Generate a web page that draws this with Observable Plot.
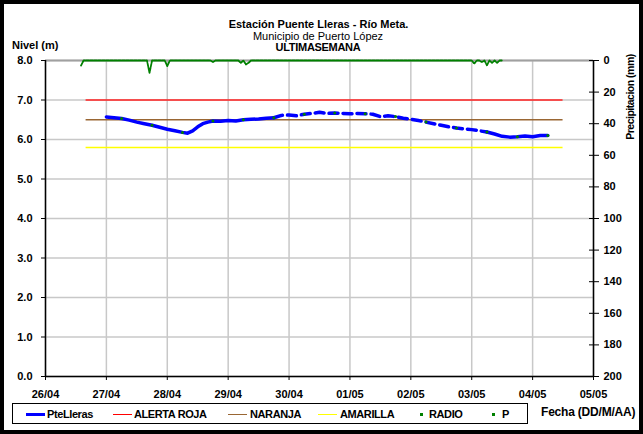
<!DOCTYPE html>
<html><head><meta charset="utf-8">
<script src="https://cdn.jsdelivr.net/npm/d3@7"></script>
<script src="https://cdn.jsdelivr.net/npm/@observablehq/plot@0.6"></script>
<style>
body{margin:0;background:#fff;}
#wrap{position:relative;width:643px;height:434px;font-family:"Liberation Sans",Arial,sans-serif;overflow:hidden;background:#fff;}
#chart{position:absolute;left:0;top:0;}
#frame{position:absolute;left:0;top:0;width:643px;height:434px;box-sizing:border-box;border:4px solid #000;pointer-events:none;}
.t{position:absolute;white-space:nowrap;color:#000;font-size:11px;line-height:12px;}
.b{font-weight:bold;}
.lg{letter-spacing:-0.4px;}
.sw{position:absolute;height:0;}
.dot{position:absolute;width:3px;height:3px;background:#008000;}
</style></head><body>
<div id="wrap">
  <div id="chart"></div>
  <div class="t b" style="left:0;width:637px;text-align:center;top:18px;">Estación Puente Lleras - Río Meta.</div>
  <div class="t" style="left:0;width:636px;text-align:center;top:30px;">Municipio de Puerto López</div>
  <div class="t b" style="left:0;width:636px;text-align:center;top:41px;letter-spacing:-0.3px;">ULTIMASEMANA</div>
  <div class="t b" style="left:12px;top:39px;">Nivel (m)</div>
  <div class="t b" style="left:580px;top:91px;width:100px;text-align:center;transform:rotate(-90deg);transform-origin:50px 6px;font-size:10.5px;letter-spacing:-0.5px;">Precipitacion (mm)</div>
  <div style="position:absolute;left:12px;top:403px;width:516px;height:21px;border:1px solid #000;box-sizing:border-box;"></div>
  <div class="sw" style="left:26px;top:413px;width:19px;border-top:3px solid #0000ff;"></div>
  <div class="t b lg" style="left:47px;top:408px;">PteLleras</div>
  <div class="sw" style="left:113px;top:414px;width:19px;border-top:1px solid #ff0000;"></div>
  <div class="t b lg" style="left:134px;top:408px;">ALERTA ROJA</div>
  <div class="sw" style="left:228px;top:414px;width:19px;border-top:1px solid #996633;"></div>
  <div class="t b lg" style="left:250px;top:408px;">NARANJA</div>
  <div class="sw" style="left:318px;top:414px;width:19px;border-top:1px solid #ffff00;"></div>
  <div class="t b lg" style="left:340px;top:408px;">AMARILLA</div>
  <div class="dot" style="left:420px;top:413px;"></div>
  <div class="t b lg" style="left:429px;top:408px;">RADIO</div>
  <div class="dot" style="left:492px;top:413px;"></div>
  <div class="t b lg" style="left:502px;top:408px;">P</div>
  <div class="t b" style="left:541px;top:406px;font-size:12px;letter-spacing:-0.2px;">Fecha (DD/M/AA)</div>
  <div id="frame"></div>
</div>
<script>
// ---- Data ----
const nivelHoras = [
  "2024-04-27T00","2024-04-27T03","2024-04-27T06","2024-04-27T09","2024-04-27T12","2024-04-27T15","2024-04-27T18","2024-04-27T21",
  "2024-04-28T00","2024-04-28T03","2024-04-28T06","2024-04-28T08","2024-04-28T10","2024-04-28T12","2024-04-28T14","2024-04-28T16","2024-04-28T18","2024-04-28T21",
  "2024-04-29T00","2024-04-29T03","2024-04-29T06","2024-04-29T09","2024-04-29T12","2024-04-29T15","2024-04-29T18","2024-04-29T21",
  "2024-04-30T00","2024-04-30T03","2024-04-30T06","2024-04-30T09","2024-04-30T12","2024-04-30T15","2024-04-30T18","2024-04-30T21",
  "2024-05-01T00","2024-05-01T03","2024-05-01T06","2024-05-01T09","2024-05-01T12","2024-05-01T15","2024-05-01T18","2024-05-01T21",
  "2024-05-02T00","2024-05-02T03","2024-05-02T06","2024-05-02T09","2024-05-02T12","2024-05-02T15","2024-05-02T18","2024-05-02T21",
  "2024-05-03T00","2024-05-03T03","2024-05-03T06","2024-05-03T09","2024-05-03T12","2024-05-03T15","2024-05-03T18","2024-05-03T21",
  "2024-05-04T00","2024-05-04T03","2024-05-04T06"
];
const nivelValores = [
  6.57,6.55,6.53,6.49,6.44,6.40,6.36,6.31,
  6.26,6.22,6.18,6.16,6.22,6.32,6.40,6.44,6.47,6.46,
  6.48,6.47,6.50,6.51,6.52,6.54,6.55,6.61,
  6.62,6.60,6.64,6.66,6.69,6.66,6.67,6.66,
  6.65,6.66,6.65,6.64,6.58,6.60,6.58,6.54,
  6.51,6.48,6.44,6.40,6.36,6.32,6.29,6.27,
  6.25,6.22,6.19,6.14,6.08,6.06,6.07,6.09,
  6.07,6.10,6.10
];
const tramoDiscontinuo = ["2024-04-29T18","2024-05-03T06"];

const radioHoras = [
  "2024-04-27T06","2024-04-27T18","2024-04-28T06","2024-04-28T18","2024-04-29T06","2024-04-29T18",
  "2024-04-30T06","2024-04-30T18","2024-05-01T06","2024-05-01T18","2024-05-02T06","2024-05-02T18",
  "2024-05-03T06","2024-05-03T18","2024-05-04T06"
];
const radioValores = [6.53,6.36,6.18,6.47,6.50,6.55,6.64,6.67,6.65,6.58,6.44,6.29,6.19,6.07,6.10];

// hourly precipitation (mm) starting 26/04 14:00
const pInicio = "2024-04-26T14";
const pValores = [
  3.2,0,0,0,0,0,0,0,0,0,0,0,0,0,0,0,0,0,0,0,0,0,0,0,
  0,0,0,7.8,0,0,0,0,0,0,3.6,0,0,0,0,0,0,0,0,0,0,0,0,0,
  0,0,0,0,1.0,0,0,0,0,0,0,0,0,0,0,1.5,0,2.5,1.5,0,0,0,0,0,
  0,0,0,0,0,0,0,0,0,0,0,0,0,0,0,0,0,0,0,0,0,0,0,0,
  0,0,0,0,0,0,0,0,0,0,0,0,0,0,0,0,0,0,0,0,0,0,0,0,
  0,0,0,0,0,0,0,0,0,0,0,0,0,0,0,0,0,0,0,0,0,0,0,0,
  0,0,0,0,0,0,0,0,0,0,0,2.0,0,0,1.0,0,3.0,0,1.5,0,1.5,0,0
];

const umbrales = [
  {nombre:"ALERTA ROJA", valor:7.0, color:"#ff2020"},
  {nombre:"NARANJA", valor:6.5, color:"#996633"},
  {nombre:"AMARILLA", valor:5.8, color:"#ffff00"}
];
const umbralRango = ["2024-04-26T16","2024-05-04T12"];

const nivelTicks = [0,1,2,3,4,5,6,7,8];
const precipTicks = [0,20,40,60,80,100,120,140,160,180,200];
const fechaInicio = "2024-04-26T00", fechaFin = "2024-05-05T00";

// ---- Build ----
const parse = d3.utcParse("%Y-%m-%dT%H");
const x0 = parse(fechaInicio), x1 = parse(fechaFin);
const dias = d3.utcDay.range(x0, d3.utcDay.offset(x1, 1));
const dA = parse(tramoDiscontinuo[0]), dB = parse(tramoDiscontinuo[1]);
const nivel = nivelHoras.map((h,i)=>({t:parse(h), v:nivelValores[i]}));
const solido1 = nivel.filter(d=>d.t<=dA);
const disc = nivel.filter(d=>d.t>=dA && d.t<=dB);
const solido2 = nivel.filter(d=>d.t>=dB);
const radio = radioHoras.map((h,i)=>({t:parse(h), v:radioValores[i]}));
const p0 = parse(pInicio);
const precip = pValores.map((v,i)=>({t:d3.utcHour.offset(p0,i), y:8 - v/25}));
const u0 = parse(umbralRango[0]), u1 = parse(umbralRango[1]);

const chart = Plot.plot({
  width:643, height:434,
  marginLeft:45, marginRight:50, marginTop:60, marginBottom:58,
  style:{fontFamily:"'Liberation Sans', Arial, sans-serif", fontSize:"11px", fontWeight:"bold", background:"transparent", overflow:"visible"},
  x:{type:"utc", domain:[x0,x1]},
  y:{domain:[0,8]},
  marks:[
    Plot.ruleX(dias, {x:d=>d, stroke:"#c8c8c8", strokeWidth:1.5}),
    Plot.ruleY(nivelTicks, {y:d=>d, stroke:"#c8c8c8", strokeWidth:1.5}),
    Plot.ruleY([8], {stroke:"#a0a0a0", strokeWidth:2}),
    Plot.ruleY([0], {stroke:"#000", strokeWidth:1.5}),
    Plot.ruleX([x0], {stroke:"#000", strokeWidth:1.5}),
    Plot.ruleX([x1], {stroke:"#000", strokeWidth:1.5}),
    Plot.ruleY(umbrales, {y:"valor", x1:()=>u0, x2:()=>u1, stroke:"color", strokeWidth:1.5}),
    Plot.line(precip, {x:"t", y:"y", stroke:"#008000", strokeWidth:1.8, strokeDasharray:"3,1"}),
    Plot.line(solido1, {x:"t", y:"v", stroke:"#0000ff", strokeWidth:3.5}),
    Plot.line(disc, {x:"t", y:"v", stroke:"#0000ff", strokeWidth:3.5, strokeDasharray:"9,5"}),
    Plot.line(solido2, {x:"t", y:"v", stroke:"#0000ff", strokeWidth:3.5}),
    Plot.dot(radio, {x:"t", y:"v", fill:"#008000", r:1.5}),
    Plot.axisY({anchor:"left", ticks:nivelTicks, tickFormat:d3.format(".1f"), tickSize:4, tickPadding:9, label:null, fontWeight:"bold", fontSize:11}),
    Plot.axisY({anchor:"right", ticks:precipTicks.map(p=>8-p/25), tickFormat:d=>String(Math.round((8-d)*25)), tickSize:10, dx:-5, tickPadding:5, label:null, fontWeight:"bold", fontSize:11}),
    Plot.axisX({ticks:dias, tickFormat:d3.utcFormat("%d/%m"), tickSize:4, tickPadding:10, label:null, fontWeight:"bold", fontSize:11})
  ]
});
document.getElementById("chart").appendChild(chart);
</script>
</body></html>
